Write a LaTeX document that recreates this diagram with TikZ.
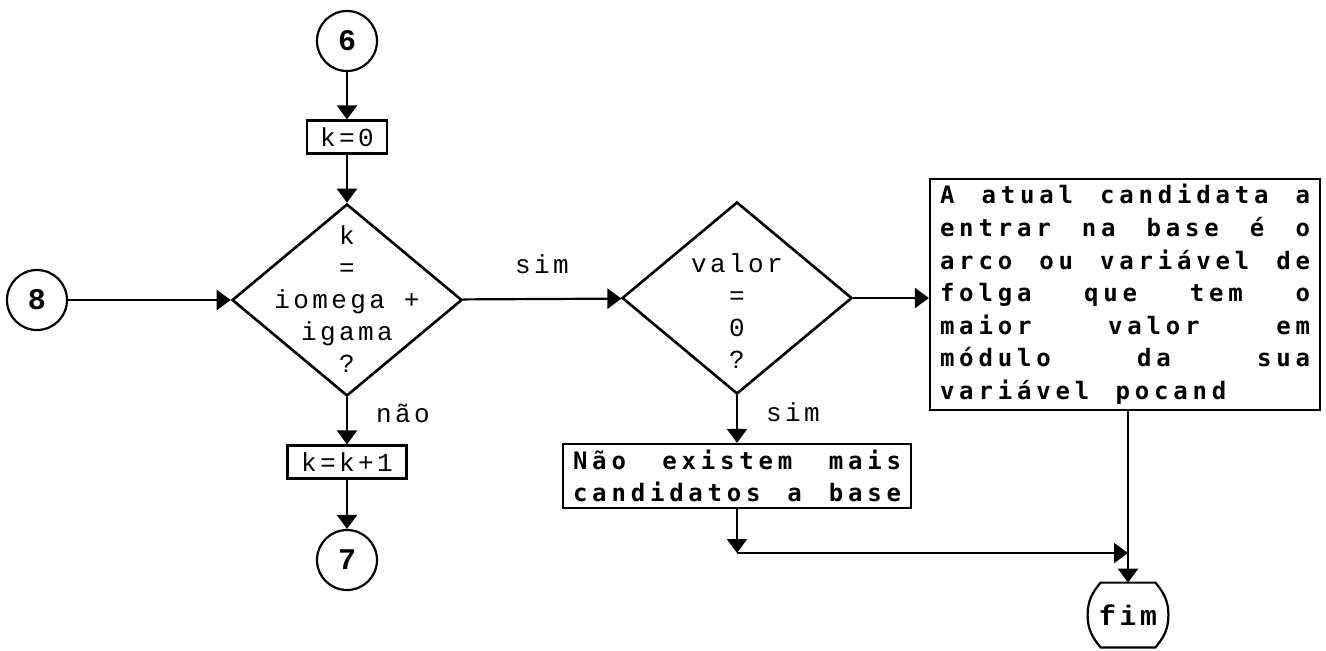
\documentclass[tikz,border=0pt]{standalone}
\usepackage{fontspec}
\newfontfamily\flowfont[LetterSpace=13]{Liberation Mono}
\newfontfamily\notefont[LetterSpace=20]{DejaVu Sans Mono}
\usetikzlibrary{arrows.meta,shapes.geometric}
\newcommand{\jrow}[1]{\makebox[\linewidth][s]{\spaceskip=0.5em plus 1fil\relax#1}}

\begin{document}
\begin{tikzpicture}[x=0.5pt,y=-0.5pt,>=Latex,
connector/.style={draw,circle,line width=1.1pt,minimum size=30pt,inner sep=0pt,font=\flowfont\bfseries\fontsize{15}{16}\selectfont},
decision/.style={draw,diamond,line width=1.3pt,minimum width=115pt,minimum height=96pt,inner sep=0pt},
cond text/.style={align=center,inner sep=0pt,font=\flowfont\fontsize{13}{16}\selectfont},
assign box/.style={draw,line width=1.1pt,minimum height=16.5pt,inner sep=0pt,font=\flowfont\fontsize{13}{15}\selectfont},
note box/.style={draw,line width=1.1pt,inner xsep=5pt,inner ysep=1pt,align=left,font=\notefont\bfseries\fontsize{12}{16.3}\selectfont},
end box/.style={minimum width=40pt,minimum height=32pt,inner sep=0pt,font=\flowfont\bfseries\fontsize{14}{16}\selectfont},
flow/.style={-{Triangle[length=7pt,width=10pt]},line width=1.1pt},
edge label/.style={inner sep=0pt,font=\flowfont\fontsize{13}{15}\selectfont}]
\useasboundingbox (0,0) rectangle (1326,650);
\node[connector] (c6) at (347,41) {6};
\node[assign box,minimum width=40pt] (kzero) at (347,137) {k=0};
\node[decision] (d1) at (347,300) {};
\node[cond text] (d1txt) at (347,299) {k\\=\\iomega +\\igama\\?};
\node[connector] (c8) at (37,300) {8};
\node[assign box,minimum width=59.5pt] (kinc) at (347,462) {k=k+1};
\node[connector] (c7) at (347,560) {7};
\node[decision] (d2) at (737,298) {};
\node[cond text] (d2txt) at (737,311) {valor\\=\\0\\?};
\node[note box,text width=164pt,minimum height=32pt] (none) at (737,476) {\jrow{Não existem mais}\\\jrow{candidatos a base}};
\node[note box,text width=185pt,minimum height=115.5pt] (pick) at (1125,294.5) {\jrow{A atual candidata a}\\\jrow{entrar na base é o}\\\jrow{arco ou variável de}\\\jrow{folga que tem o}\\\jrow{maior valor em}\\\jrow{módulo da sua}\\variável\hspace{1.1em}pocand};
\node[end box] (fim) at (1128,615) {fim};
\draw[line width=1.1pt] ([xshift=6.5pt]fim.north west) -- ([xshift=-6.5pt]fim.north east) to[out=-50,in=90] (fim.east) to[out=-90,in=50] ([xshift=-6.5pt]fim.south east) -- ([xshift=6.5pt]fim.south west) to[out=130,in=-90] (fim.west) to[out=90,in=-130] cycle;
\coordinate (join) at (737,553);
\draw[flow] (c6) -- (kzero);
\draw[flow] (kzero) -- (d1);
\draw[flow] (c8) -- (d1);
\draw[flow] (d1) -- node[edge label,pos=0.35,right=14pt] {não} (kinc);
\draw[flow] (kinc) -- (c7);
\draw[flow] (d1) -- node[edge label,midway,above=12pt] {sim} (d2);
\draw[flow] (d2) -- node[edge label,pos=0.35,right=14pt] {sim} (none);
\draw[flow] (d2) -- (d2 -| pick.west);
\draw[flow] (none) -- (join);
\draw[flow] (join) -- (join -| fim);
\draw[flow] (pick.south -| fim) -- (fim);
\end{tikzpicture}
\end{document}
